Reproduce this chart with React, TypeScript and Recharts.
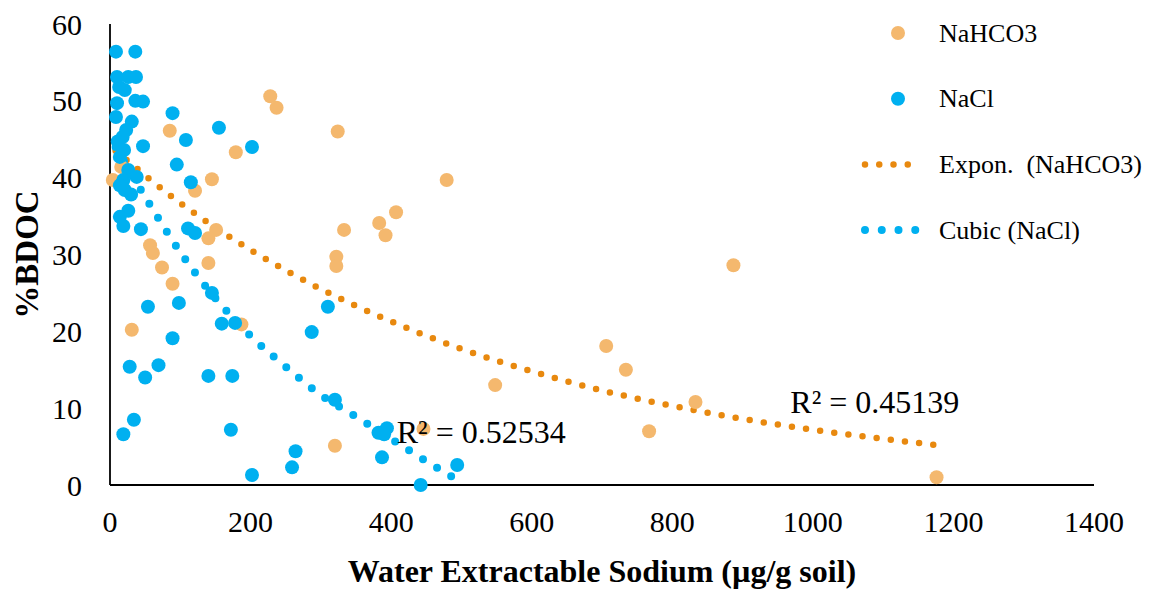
import React from 'react';
import { ComposedChart, Scatter, Line, XAxis, YAxis, Legend, ReferenceDot } from 'recharts';

const xTicks = [0, 200, 400, 600, 800, 1000, 1200, 1400];
const yTicks = [0, 10, 20, 30, 40, 50, 60];

// [water extractable Na, %BDOC]
const nahco3Points: [number, number][] = [
  [4, 39.7], [16, 41.4], [85, 46.1], [179, 43.3], [145, 39.8], [121, 38.3],
  [228, 50.6], [237, 49.1], [151, 33.2], [140, 32.1], [57, 31.2], [61, 30.2],
  [140, 28.9], [74, 28.3], [89, 26.2], [31, 20.2], [187, 20.9], [324, 46],
  [479, 39.7], [407, 35.5], [383, 34.1], [392, 32.5], [333, 33.2], [322, 29.7],
  [322, 28.5], [548, 13], [320, 5.1], [446, 7.3], [887, 28.6], [706, 18.1],
  [734, 15], [833, 10.8], [767, 7.0], [1176, 1.0],
];

const naclPoints: [number, number][] = [
  [8.5, 56.4], [36, 56.4], [10, 53.1], [26, 53.1], [37, 53.1], [13, 51.8],
  [21, 51.4], [10, 49.7], [36, 50], [47, 49.9], [8.5, 47.9], [31, 47.3],
  [23, 46.2], [18, 45.3], [11, 44.7], [20, 43.6], [14, 42.7], [47, 44.1],
  [89, 48.4], [108, 44.9], [95, 41.7], [155, 46.5], [202, 44], [115, 39.4],
  [26, 41], [19, 39.7], [14, 39], [30, 37.8], [38, 40.1], [21, 38.4],
  [26, 35.7], [14, 34.9], [19, 33.7], [44, 33.3], [111, 33.4], [121, 32.8],
  [54, 23.2], [98, 23.7], [145, 25], [159, 21], [178, 21.1], [89, 19.1],
  [28, 15.4], [69, 15.6], [50, 14], [140, 14.2], [174, 14.2], [34, 8.5],
  [19, 6.6], [172, 7.2], [202, 1.3], [264, 4.4], [259, 2.3], [310, 23.2],
  [287, 19.9], [320, 11.1], [394, 7.4], [382, 6.8], [390, 6.6], [387, 3.6],
  [494, 2.6], [442, 0],
];

// trendlines
const exponX = [8, 100, 200, 300, 400, 500, 600, 700, 800, 900, 1000, 1100, 1176];
const exponY = [43.5, 36.7, 30.6, 25.5, 21.3, 17.7, 14.8, 12.3, 10.3, 8.6, 7.2, 6.0, 5.2];
const cubicX = [8, 50, 100, 150, 200, 250, 300, 350, 400, 450, 494];
const cubicY = [44.0, 37.5, 30.3, 24.3, 19.4, 15.4, 11.7, 8.9, 6.0, 3.1, 0.65];

const r2Labels = [
  { x: 408, y: 6.9, text: 'R² = 0.52534' },
  { x: 968, y: 10.85, text: 'R² = 0.45139' },
];

const ORANGE_PT = '#F4B86E';
const BLUE = '#00B0F0';
const ORANGE_LINE = '#E8890F';
const FONT = "'Times New Roman', 'Liberation Serif', serif";

const toRows = (pts: [number, number][]) => pts.map(([x, y]) => ({ x, y }));
const zipRows = (xs: number[], ys: number[]) => xs.map((x, i) => ({ x, y: ys[i] }));

const dot = (color: string) => (props: any) =>
  <circle cx={props.cx} cy={props.cy} r={7} fill={color} />;

const legendItems = [
  { label: 'NaHCO3', kind: 'point', color: ORANGE_PT },
  { label: 'NaCl', kind: 'point', color: BLUE },
  { label: 'Expon.  (NaHCO3)', kind: 'line', color: ORANGE_LINE },
  { label: 'Cubic (NaCl)', kind: 'line', color: BLUE },
];

const renderLegend = () => (
  <svg width={300} height={260} style={{ fontFamily: FONT }}>
    {legendItems.map((item, i) => {
      const cy = 33 + i * 65.7;
      const isBlue = item.color === BLUE;
      return (
        <g key={item.label}>
          {item.kind === 'point' ? (
            <circle cx={48} cy={cy} r={7} fill={item.color} />
          ) : (
            <line
              x1={15}
              x2={isBlue ? 82 : 72}
              y1={cy}
              y2={cy}
              stroke={item.color}
              strokeWidth={isBlue ? 8 : 6.5}
              strokeLinecap="round"
              strokeDasharray={isBlue ? '0 16.75' : '0 14.25'}
            />
          )}
          <text x={89} y={cy} dominantBaseline="central" fontSize={26} fill="#000">
            {item.label.replace('  ', '\u00a0\u00a0')}
          </text>
        </g>
      );
    })}
  </svg>
);

export default function App() {
  return (
    <div style={{ position: 'absolute', left: 0, top: 0, fontFamily: FONT }}>
      <ComposedChart width={1161} height={589} margin={{ top: 24, right: 67, bottom: 4, left: 0 }}>
        <XAxis
          type="number"
          dataKey="x"
          domain={[0, 1400]}
          ticks={xTicks}
          height={100}
          tickLine={false}
          tickSize={0}
          tickMargin={26}
          axisLine={{ stroke: '#000', strokeWidth: 1.8 }}
          tick={{ fill: '#000', fontSize: 30 }}
          label={{
            value: 'Water Extractable Sodium (µg/g soil)',
            position: 'insideBottom',
            offset: 3,
            style: { fontSize: 32, fontWeight: 'bold', fill: '#000' },
          }}
        />
        <YAxis
          type="number"
          dataKey="y"
          domain={[0, 60]}
          ticks={yTicks}
          width={110}
          tickLine={false}
          tickSize={0}
          tickMargin={28}
          axisLine={{ stroke: '#000', strokeWidth: 1.8 }}
          tick={{ fill: '#000', fontSize: 30 }}
          label={{
            value: '%BDOC',
            angle: -90,
            position: 'insideLeft',
            offset: 26,
            style: { fontSize: 33, fontWeight: 'bold', fill: '#000', textAnchor: 'middle' },
          }}
        />
        <Legend
          content={renderLegend}
          layout="vertical"
          align="center"
          verticalAlign="middle"
          wrapperStyle={{ left: 850, top: 0, width: 300, height: 260 }}
        />
        <Scatter name="NaHCO3" data={toRows(nahco3Points)} shape={dot(ORANGE_PT)} isAnimationActive={false} />
        <Scatter name="NaCl" data={toRows(naclPoints)} shape={dot(BLUE)} isAnimationActive={false} />
        <Line
          data={zipRows(exponX, exponY)}
          dataKey="y"
          type="monotone"
          stroke={ORANGE_LINE}
          strokeWidth={6.5}
          strokeLinecap="round"
          strokeDasharray="0 14.25"
          dot={false}
          activeDot={false}
          legendType="none"
          isAnimationActive={false}
        />
        <Line
          data={zipRows(cubicX, cubicY)}
          dataKey="y"
          type="monotone"
          stroke={BLUE}
          strokeWidth={8}
          strokeLinecap="round"
          strokeDasharray="0 16.5"
          dot={false}
          activeDot={false}
          legendType="none"
          isAnimationActive={false}
        />
        {r2Labels.map((l) => (
          <ReferenceDot
            key={l.text}
            x={l.x}
            y={l.y}
            r={0}
            fill="none"
            stroke="none"
            label={{ value: l.text, position: 'right', offset: 0, fontSize: 32, fill: '#000' }}
          />
        ))}
      </ComposedChart>
    </div>
  );
}
